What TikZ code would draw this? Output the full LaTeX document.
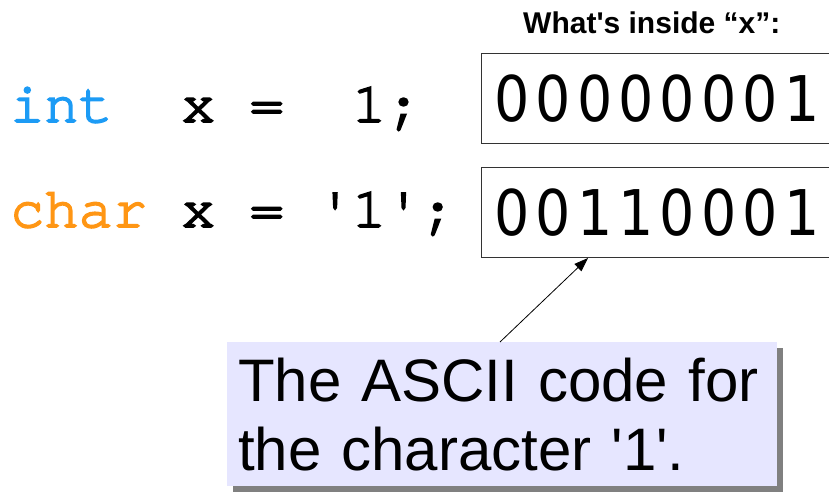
\documentclass[tikz,border=0pt]{standalone}
\usepackage{fontspec}
\setmainfont{Liberation Sans}[Ligatures=TeXOff]
\newfontfamily\codefont{texgyrecursor-regular.otf}[Ligatures=TeXOff,FakeBold=3]
\newfontfamily\bitfont{DejaVu Sans}[FakeStretch=0.88]
\usetikzlibrary{arrows.meta,shadows,calc}
\definecolor{intblue}{RGB}{28,155,245}
\definecolor{charorange}{RGB}{255,150,20}
\definecolor{notefill}{RGB}{230,230,255}
\newcommand\bitcell[1]{\makebox[41.4pt]{#1}}
\tikzset{
  codeline/.style={anchor=base west, inner sep=0pt, font=\codefont\fontsize{57}{60}\selectfont},
  bitbox/.style={draw=black!80, line width=1pt, anchor=north west, minimum width=380pt,
    minimum height=90pt, inner xsep=9.8pt, inner ysep=0pt, text width=360.4pt, align=left,
    font=\bitfont\fontsize{63}{66}\selectfont},
  notebox/.style={fill=notefill, anchor=north west, minimum width=550pt, minimum height=144pt,
    text width=528pt, inner xsep=11pt, inner ysep=0pt, align=left,
    font=\fontsize{60}{69}\selectfont,
    drop shadow={shadow xshift=6pt, shadow yshift=-6pt, fill=black!50, opacity=1}},
  titletext/.style={anchor=base west, inner sep=0pt, font=\bfseries\fontsize{30}{34}\selectfont},
  pointer/.style={line width=0.8pt, -{Triangle[length=14pt,width=10pt]}}
}
\begin{document}
\begin{tikzpicture}[x=1pt,y=-1pt]
\clip (0,0) rectangle (829,494);
\fill[white] (0,0) rectangle (829,494);
\node[titletext] (title) at (523,34) {What's inside “x”:};
\node[codeline] (line1) at (10,122) {\textcolor{intblue}{int}~~x =~~1;};
\node[codeline] (line2) at (10,227) {\textcolor{charorange}{char} x = '1';};
\node[bitbox] (b1) at (481,53) {\bitcell{0}\bitcell{0}\bitcell{0}\bitcell{0}\bitcell{0}\bitcell{0}\bitcell{0}\bitcell{1}};
\node[bitbox] (b2) at (481,167) {\bitcell{0}\bitcell{0}\bitcell{1}\bitcell{1}\bitcell{0}\bitcell{0}\bitcell{0}\bitcell{1}};
\node[notebox] (note) at (227,342) {The ASCII code for\\the character '1'.};
\coordinate (tail) at ($(note.north west)+(273,0)$);
\coordinate (tip) at ($(b2.south west)+(107,0)$);
\draw[pointer] (tail) -- (tip);
\end{tikzpicture}
\end{document}
